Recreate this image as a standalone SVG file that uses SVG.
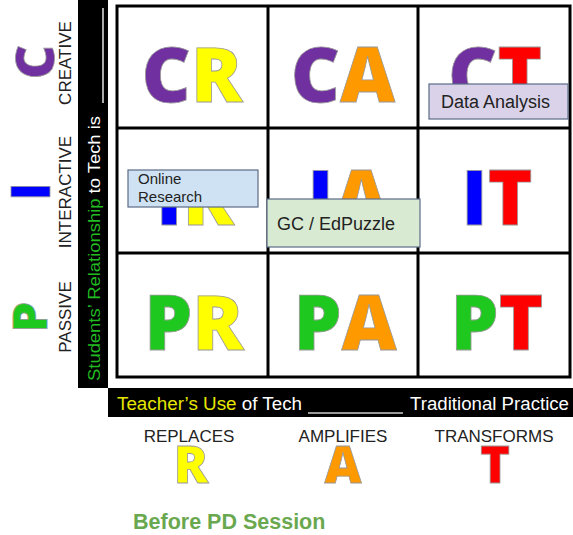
<svg xmlns="http://www.w3.org/2000/svg" width="573" height="535" viewBox="0 0 573 535">
<style>
.big{font-family:"Open Sans","DejaVu Sans",sans-serif;font-weight:800;stroke:#999;stroke-width:0.8}
.lbl{font-family:"Liberation Sans",Arial,sans-serif;fill:#222}
.box{stroke:#5b6b86;stroke-width:1.2}
.pu{fill:#7030a0}.ye{fill:#ffff00}.or{fill:#ff9900}.re{fill:#ff0000}.bl{fill:#0000ff}.gr{fill:#1ec81e}
</style>
<rect width="573" height="535" fill="#fff"/>
<!-- left bar -->
<g id="y-axis">
<rect x="78" y="0" width="30" height="388" fill="#000"/>
<text class="lbl" transform="translate(100,381) rotate(-90)" font-size="17" textLength="265" lengthAdjust="spacingAndGlyphs" style="fill:#fff"><tspan style="fill:#22bb22">Students’ Relationship</tspan> to Tech is</text>
<line x1="103" y1="103" x2="103" y2="8" stroke="#aaa" stroke-width="2"/>
<text class="big pu" transform="translate(54,62) rotate(-90)" font-size="53" text-anchor="middle">C</text>
<text class="big bl" transform="translate(50,191.5) rotate(-90)" font-size="54" text-anchor="middle">I</text>
<text class="big gr" transform="translate(47,317) rotate(-90)" font-size="48" text-anchor="middle">P</text>
<text class="lbl" transform="translate(71,63) rotate(-90)" font-size="17" text-anchor="middle">CREATIVE</text>
<text class="lbl" transform="translate(71,192) rotate(-90)" font-size="17" text-anchor="middle">INTERACTIVE</text>
<text class="lbl" transform="translate(71,317) rotate(-90)" font-size="17" text-anchor="middle">PASSIVE</text>
</g>
<!-- grid -->
<g id="grid" fill="none" stroke="#000" stroke-width="3">
<rect x="117" y="6" width="453" height="371"/>
<line x1="268" y1="6" x2="268" y2="377"/>
<line x1="418" y1="6" x2="418" y2="377"/>
<line x1="117" y1="128" x2="570" y2="128"/>
<line x1="117" y1="253" x2="570" y2="253"/>
</g>
<g id="CR"><text class="big" x="192" y="102" font-size="76" text-anchor="middle"><tspan class="pu">C</tspan><tspan class="ye">R</tspan></text></g>
<g id="CA"><text class="big" x="343" y="102" font-size="76" text-anchor="middle"><tspan class="pu">C</tspan><tspan class="or">A</tspan></text></g>
<g id="CT"><text class="big" x="495" y="102" font-size="76" text-anchor="middle"><tspan class="pu">C</tspan><tspan class="re">T</tspan></text></g>
<g id="IR"><text class="big" x="195" y="225" font-size="76" text-anchor="middle"><tspan class="bl">I</tspan><tspan class="ye">R</tspan></text></g>
<g id="IA"><text class="big" x="348" y="225" font-size="76" text-anchor="middle"><tspan class="bl">I</tspan><tspan class="or">A</tspan></text></g>
<g id="IT"><text class="big" x="497" y="225" font-size="76" text-anchor="middle"><tspan class="bl">I</tspan><tspan class="re">T</tspan></text></g>
<g id="PR"><text class="big" x="194" y="350" font-size="76" text-anchor="middle"><tspan class="gr">P</tspan><tspan class="ye">R</tspan></text></g>
<g id="PA"><text class="big" x="345" y="350" font-size="76" text-anchor="middle"><tspan class="gr">P</tspan><tspan class="or">A</tspan></text></g>
<g id="PT"><text class="big" x="497" y="350" font-size="76" text-anchor="middle"><tspan class="gr">P</tspan><tspan class="re">T</tspan></text></g>
<!-- boxes -->
<g id="data-analysis">
<rect class="box" x="429" y="84" width="139" height="35" fill="#d9d2e9"/>
<text class="lbl" x="441" y="108" font-size="18">Data Analysis</text>
</g>
<g id="online-research">
<rect class="box" x="128" y="170" width="130" height="37" fill="#cfe2f3"/>
<text class="lbl" x="138" y="184" font-size="15">Online</text>
<text class="lbl" x="138" y="202" font-size="15">Research</text>
</g>
<g id="gc-edpuzzle">
<rect class="box" x="267" y="199" width="153" height="48" fill="#d9ead3"/>
<text class="lbl" x="277" y="230" font-size="18">GC / EdPuzzle</text>
</g>
<!-- bottom bar -->
<g id="x-axis">
<rect x="108" y="388" width="465" height="29" fill="#000"/>
<text class="lbl" x="117" y="410" font-size="17.5" textLength="185" lengthAdjust="spacingAndGlyphs" style="fill:#fff"><tspan style="fill:#e6e600">Teacher’s Use</tspan> of Tech</text>
<line x1="308" y1="413" x2="403" y2="413" stroke="#999" stroke-width="2"/>
<text class="lbl" x="410" y="410" font-size="17.5" textLength="159" lengthAdjust="spacingAndGlyphs" style="fill:#fff">Traditional Practice</text>
<text class="lbl" x="189" y="442" font-size="17" text-anchor="middle">REPLACES</text>
<text class="lbl" x="343" y="442" font-size="17" text-anchor="middle">AMPLIFIES</text>
<text class="lbl" x="494" y="442" font-size="17" text-anchor="middle">TRANSFORMS</text>
<text class="big ye" x="191" y="483" font-size="51" text-anchor="middle">R</text>
<text class="big or" x="343" y="483" font-size="51" text-anchor="middle">A</text>
<text class="big re" x="495" y="483" font-size="51" text-anchor="middle">T</text>
</g>
<text id="title" x="133" y="529" font-family="Liberation Sans,Arial,sans-serif" font-weight="bold" font-size="21.5" fill="#6aa84f">Before PD Session</text>
</svg>
